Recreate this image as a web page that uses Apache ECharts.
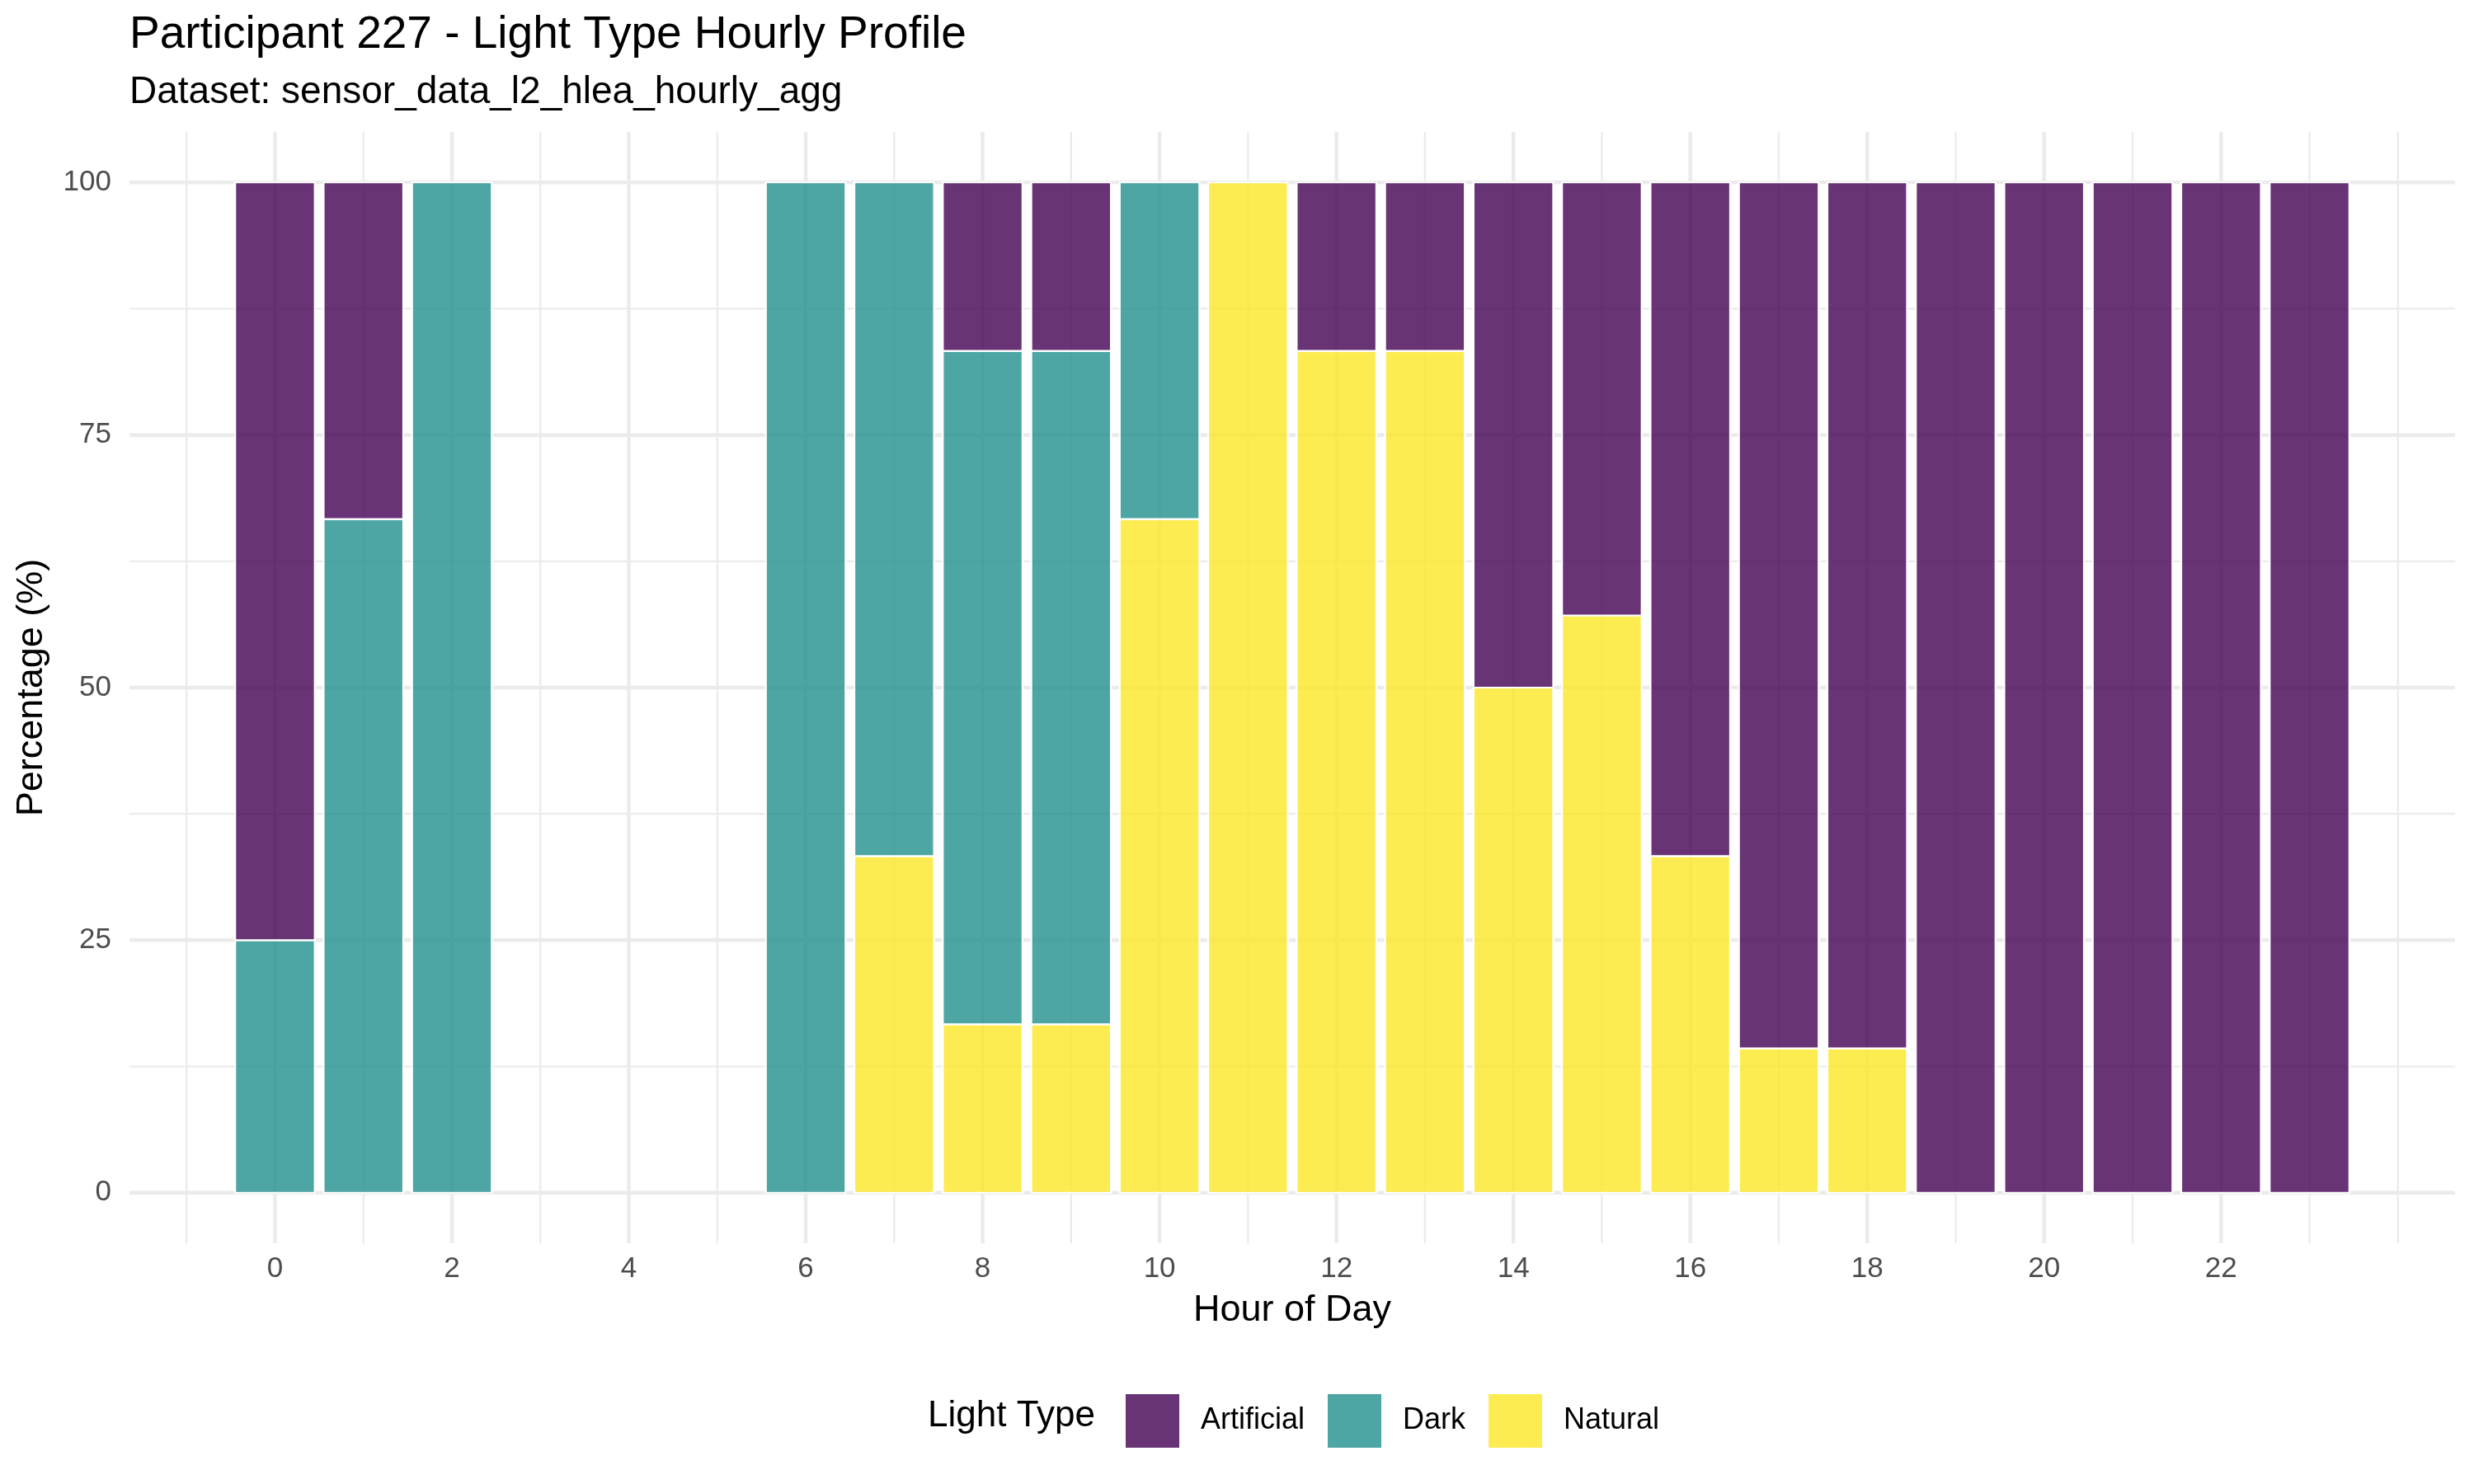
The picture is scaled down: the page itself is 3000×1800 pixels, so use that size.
<!DOCTYPE html>
<html>
<head>
<meta charset="utf-8">
<script src="https://cdn.jsdelivr.net/npm/echarts@6/dist/echarts.min.js"></script>
<style>
html,body{margin:0;padding:0;background:#fff;}
#c{width:3000px;height:1800px;}
</style>
</head>
<body>
<div id="c"></div>
<script>
// ---- data ----
const hours      = [0, 1, 2, 6, 7, 8, 9, 10, 11, 12, 13, 14, 15, 16, 17, 18, 19, 20, 21, 22, 23];
const natural    = [0, 0, 0, 0, 33.33, 16.67, 16.67, 66.67, 100, 83.33, 83.33, 50, 57.14, 33.33, 14.29, 14.29, 0, 0, 0, 0, 0];
const dark       = [25, 66.67, 100, 100, 66.67, 66.66, 66.66, 33.33, 0, 0, 0, 0, 0, 0, 0, 0, 0, 0, 0, 0, 0];
const artificial = [75, 33.33, 0, 0, 0, 16.67, 16.67, 0, 0, 16.67, 16.67, 50, 42.86, 66.67, 85.71, 85.71, 100, 100, 100, 100, 100];
const xTicks = [0, 2, 4, 6, 8, 10, 12, 14, 16, 18, 20, 22];
const xMinor = [-1, 1, 3, 5, 7, 9, 11, 13, 15, 17, 19, 21, 23, 24];
const yTicks = [0, 25, 50, 75, 100];
const yMinor = [12.5, 37.5, 62.5, 87.5];
const seriesNames = ['Natural', 'Dark', 'Artificial']; // bottom to top
const legendOrder = ['Artificial', 'Dark', 'Natural'];

// ---- styles ----
const FONT = '"Liberation Sans", Arial, Helvetica, sans-serif';
const colors = {
  Artificial: 'rgba(68,1,84,0.8)',
  Dark: 'rgba(33,144,140,0.8)',
  Natural: 'rgba(253,231,37,0.8)'
};
const BAR_HALF = 0.45;

const valuesByName = { Natural: natural, Dark: dark, Artificial: artificial };
const base = hours.map(() => 0);
const barSeries = seriesNames.map(name => {
  const vals = valuesByName[name];
  const data = [];
  vals.forEach((v, i) => {
    if (v > 0) data.push([hours[i], base[i], base[i] + v]);
    base[i] += v;
  });
  return {
    type: 'custom',
    name: name,
    data: data,
    encode: { x: 0, y: [1, 2] },
    itemStyle: { color: colors[name] },
    z: 3,
    silent: true,
    renderItem: function (params, api) {
      const x = api.value(0), y0 = api.value(1), y1 = api.value(2);
      const p0 = api.coord([x - BAR_HALF, y0]);
      const p1 = api.coord([x + BAR_HALF, y1]);
      return {
        type: 'rect',
        shape: { x: p0[0], y: p1[1], width: p1[0] - p0[0], height: p0[1] - p1[1] },
        style: { fill: colors[name], stroke: '#ffffff', lineWidth: 2.2 }
      };
    }
  };
});

const gridData = []
  .concat(xMinor.map(v => [v, 1]))
  .concat(yMinor.map(v => [v, 3]))
  .concat(xTicks.map(v => [v, 0]))
  .concat(yTicks.map(v => [v, 2]));

const gridSeries = {
  type: 'custom',
  name: 'grid',
  data: gridData,
  encode: { x: 0, y: 1 },
  z: 1,
  silent: true,
  clip: false,
  renderItem: function (params, api) {
    const cs = params.coordSys;
    const v = api.value(0), kind = api.value(1);
    const w = (kind === 0 || kind === 2) ? 4.5 : 2.3;
    let shape;
    if (kind < 2) {
      const x = api.coord([v, 0])[0];
      shape = { x1: x, y1: cs.y, x2: x, y2: cs.y + cs.height };
    } else {
      const y = api.coord([0, v])[1];
      shape = { x1: cs.x, y1: y, x2: cs.x + cs.width, y2: y };
    }
    return { type: 'line', shape: shape, style: { stroke: '#EBEBEB', lineWidth: w } };
  }
};

const chart = echarts.init(document.getElementById('c'), null, { renderer: 'canvas' });
chart.setOption({
  animation: false,
  backgroundColor: '#ffffff',
  textStyle: { fontFamily: FONT },
  grid: { left: 157, right: 23, top: 160, bottom: 292, containLabel: false },
  xAxis: {
    type: 'value', min: -1.645, max: 24.645,
    axisLine: { show: false }, axisTick: { show: false }, splitLine: { show: false },
    axisLabel: { customValues: xTicks, fontSize: 35, color: '#4D4D4D', margin: 14, fontFamily: FONT }
  },
  yAxis: {
    type: 'value', min: -5, max: 105,
    axisLine: { show: false }, axisTick: { show: false }, splitLine: { show: false },
    axisLabel: { customValues: yTicks, fontSize: 35, color: '#4D4D4D', margin: 22, fontFamily: FONT }
  },
  legend: {
    data: legendOrder.map(n => ({ name: n, icon: 'rect', itemStyle: { color: colors[n] } })),
    orient: 'horizontal',
    left: 1360, top: 1686,
    itemWidth: 65, itemHeight: 65, itemGap: 28,
    selectedMode: false,
    textStyle: { fontSize: 36, color: '#000000', fontFamily: FONT, padding: [0, 0, 0, 21] }
  },
  graphic: [
    { type: 'text', x: 157, y: 43, style: { text: 'Participant 227 - Light Type Hourly Profile', fontSize: 55, fill: '#000', fontFamily: FONT, verticalAlign: 'middle', align: 'left' }, z: 10 },
    { type: 'text', x: 157, y: 112, style: { text: 'Dataset: sensor_data_l2_hlea_hourly_agg', fontSize: 46, fill: '#000', fontFamily: FONT, verticalAlign: 'middle', align: 'left' }, z: 10 },
    { type: 'text', x: 1567, y: 1590, style: { text: 'Hour of Day', fontSize: 45, fill: '#000', fontFamily: FONT, verticalAlign: 'middle', align: 'center' }, z: 10 },
    { type: 'text', x: 39, y: 834, rotation: Math.PI / 2, style: { text: 'Percentage (%)', fontSize: 45, fill: '#000', fontFamily: FONT, verticalAlign: 'middle', align: 'center' }, z: 10 },
    { type: 'text', x: 1125, y: 1718, style: { text: 'Light Type', fontSize: 44, fill: '#000', fontFamily: FONT, verticalAlign: 'middle', align: 'left' }, z: 10 }
  ],
  series: [gridSeries].concat(barSeries)
});
</script>
</body>
</html>
